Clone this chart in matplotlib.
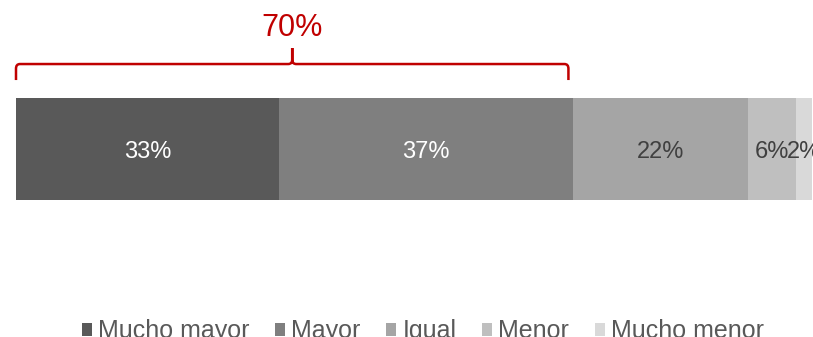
import matplotlib
matplotlib.use("Agg")
import matplotlib.pyplot as plt
from matplotlib.path import Path
from matplotlib.patches import PathPatch, Patch
from matplotlib.transforms import blended_transform_factory

plt.rcParams["font.family"] = ["Liberation Sans", "DejaVu Sans"]

# answer shares, in percent
categories = ["Mucho mayor", "Mayor", "Igual", "Menor", "Mucho menor"]
shares = [33, 37, 22, 6, 2]
colors = ["#595959", "#7f7f7f", "#a5a5a5", "#bfbfbf", "#d9d9d9"]
text_colors = ["#ffffff", "#ffffff", "#404040", "#404040", "#404040"]
red = "#c00000"

fig = plt.figure(figsize=(8.13, 3.37), dpi=100)
ax = fig.add_axes([16 / 813, 137 / 337, 796 / 813, 102 / 337])

left = 0
for cat, val, col, tcol in zip(categories, shares, colors, text_colors):
    ax.barh(0, val, left=left, height=1.0, color=col, label=cat)
    ax.text(left + val / 2, -0.03, f"{val}%", ha="center", va="center",
            fontsize=17, color=tcol, clip_on=False)
    left += val

ax.set_xlim(0, sum(shares))
ax.set_ylim(-0.5, 0.5)
ax.axis("off")

# brace over the two "higher" groups
top_two = shares[0] + shares[1]
trans = blended_transform_factory(ax.transData, ax.transAxes)
x0, x1 = 0, top_two - 0.6
xm = (x0 + x1) / 2
y_end, y_h, y_tip = 1.176, 1.333, 1.49
rx, ry = 0.5, 0.045
verts = [
    (x0, y_end), (x0, y_h - ry), (x0, y_h), (x0 + rx, y_h),
    (xm - rx, y_h), (xm, y_h), (xm, y_h + ry), (xm, y_tip),
    (xm, y_h + ry), (xm, y_h), (xm + rx, y_h),
    (x1 - rx, y_h), (x1, y_h), (x1, y_h - ry), (x1, y_end),
]
codes = [
    Path.MOVETO, Path.LINETO, Path.CURVE3, Path.CURVE3,
    Path.LINETO, Path.CURVE3, Path.CURVE3, Path.LINETO,
    Path.LINETO, Path.CURVE3, Path.CURVE3,
    Path.LINETO, Path.CURVE3, Path.CURVE3, Path.LINETO,
]
brace = PathPatch(Path(verts, codes), fill=False, edgecolor=red, lw=1.8,
                  transform=trans, clip_on=False, capstyle="butt")
ax.add_patch(brace)
ax.text(xm, 1.69, f"{top_two}%", transform=trans, ha="center", va="center",
        fontsize=22, color=red)

handles = [Patch(facecolor=c, edgecolor="none") for c in colors]
fig.legend(handles, categories, loc="center", bbox_to_anchor=(0.52, 0.017),
           ncol=5, frameon=False, fontsize=18, handlelength=0.4,
           handleheight=0.4, handletextpad=0.25, columnspacing=1.02,
           borderpad=0, labelcolor="#595959")

fig.savefig("out.png", dpi=100)
